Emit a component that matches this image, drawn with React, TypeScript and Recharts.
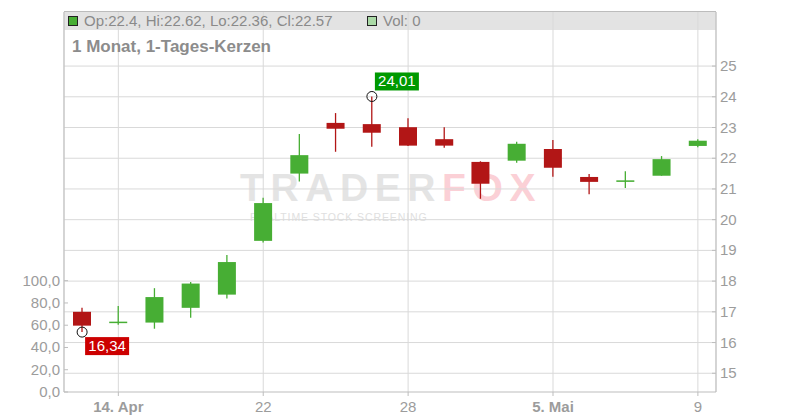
import React from 'react';
import {
  ComposedChart,
  Bar,
  Line,
  XAxis,
  YAxis,
  CartesianGrid,
  ReferenceDot,
} from 'recharts';

// trading days, 11. Apr - 9. Mai
const days = ['11', '14. Apr', '15', '16', '17', '22', '23', '24', '25', '28', '29', '30', '2', '5. Mai', '6', '7', '8', '9'];
const opens = [17.0, 16.64, 16.65, 17.13, 17.56, 19.31, 21.5, 23.15, 23.11, 23.01, 22.62, 21.88, 21.92, 22.3, 21.39, 21.23, 21.43, 22.4];
const highs = [17.13, 17.19, 17.77, 17.97, 18.85, 20.71, 22.79, 23.47, 24.01, 23.3, 23.01, 21.9, 22.54, 22.59, 21.49, 21.58, 22.07, 22.62];
const lows = [16.34, 16.58, 16.45, 16.81, 17.43, 19.26, 21.24, 22.21, 22.37, 22.4, 22.34, 20.68, 21.85, 21.4, 20.83, 21.03, 21.43, 22.36];
const closes = [16.55, 16.68, 17.48, 17.92, 18.62, 20.54, 22.1, 22.96, 22.83, 22.41, 22.41, 21.17, 22.47, 21.69, 21.23, 21.28, 21.97, 22.57];
const volumes = [0, 0, 0, 0, 0, 0, 0, 0, 0, 0, 0, 0, 0, 0, 0, 0, 0, 0];

const xTicks = ['14. Apr', '22', '28', '5. Mai', '9'];
const priceTicks = [15, 16, 17, 18, 19, 20, 21, 22, 23, 24, 25];
const volTicks = [0, 20, 40, 60, 80, 100];

const UP = '#47ae34';
const DOWN = '#b21616';
const AXIS = '#bdbdbd';
const LABEL = '#9c9c9c';
const FONT = '"Liberation Sans", Arial, sans-serif';

const data = days.map((d, i) => ({
  day: d,
  open: opens[i],
  high: highs[i],
  low: lows[i],
  close: closes[i],
  vol: volumes[i],
}));

const Candle = (props: any) => {
  const { x, y, width, height, payload } = props;
  const { open, close, high, low } = payload;
  const color = close >= open ? UP : DOWN;
  const ppu = height / (high - low || 1);
  const top = y + (high - Math.max(open, close)) * ppu;
  const bottom = y + (high - Math.min(open, close)) * ppu;
  const cx = x + width / 2;
  return (
    <g>
      <line x1={cx} x2={cx} y1={y} y2={y + height} stroke={color} strokeWidth={1.3} />
      <rect x={x} y={top} width={width} height={Math.max(bottom - top, 1.5)} fill={color} />
    </g>
  );
};

const PriceTick = ({ x, y, payload }: any) => (
  <g>
    <line x1={x - 8} x2={x - 4} y1={y} y2={y} stroke={AXIS} />
    <text x={x} y={y} dy={5} fill={LABEL} fontSize={15} fontFamily={FONT}>
      {payload.value}
    </text>
  </g>
);

const VolTick = ({ x, y, payload }: any) => (
  <g>
    <line x1={x + 4} x2={x + 8} y1={y} y2={y} stroke={AXIS} />
    <text x={x} y={y} dy={5} textAnchor="end" fill={LABEL} fontSize={15} fontFamily={FONT}>
      {payload.value.toFixed(1).replace('.', ',')}
    </text>
  </g>
);

const DayTick = ({ x, y, payload }: any) => (
  <g>
    <line x1={x} x2={x} y1={y} y2={y + 4} stroke={AXIS} />
    <text
      x={x}
      y={y + 20}
      textAnchor="middle"
      fill={LABEL}
      fontSize={15}
      fontWeight={payload.value.includes('.') ? 'bold' : 'normal'}
      fontFamily={FONT}
    >
      {payload.value}
    </text>
  </g>
);

// marker circle + value box (below for low, above for high)
const Marker = (color: string, text: string, above: boolean) => (props: any) => {
  const { cx, cy } = props;
  const by = above ? cy - 24 : cy + 5;
  return (
    <g>
      <circle cx={cx} cy={cy} r={5} fill="none" stroke="#111" strokeWidth={1} />
      <rect x={cx + 3} y={by} width={44} height={18} fill={color} />
      <text x={cx + 25} y={by + 14} textAnchor="middle" fill="#fff" fontSize={15} fontFamily={FONT}>
        {text}
      </text>
    </g>
  );
};

export default function App() {
  return (
    <div style={{ position: 'absolute', left: 0, top: 0, width: 800, height: 420, fontFamily: FONT, background: '#fff' }}>
      {/* header band + watermark, behind the grid */}
      <div style={{ position: 'absolute', left: 64, top: 11, width: 652, height: 18, background: '#e3e3e3', borderTop: '1px solid #bcbcbc' }} />
      <div style={{ position: 'absolute', left: 240, top: 166, fontSize: 39, fontWeight: 'bold', letterSpacing: 6.6, lineHeight: '44px', whiteSpace: 'nowrap' }}>
        <span style={{ color: '#e4e4e4' }}>TRADER</span>
        <span style={{ color: '#fbd0d6' }}>FOX</span>
      </div>
      <div style={{ position: 'absolute', left: 250, top: 211, fontSize: 10.5, letterSpacing: 0.9, color: '#e0e0e0', whiteSpace: 'nowrap' }}>
        REALTIME STOCK SCREENING
      </div>

      <div style={{ position: 'absolute', left: 0, top: 0 }}>
        <ComposedChart width={800} height={420} data={data} margin={{ top: 12, right: 0, bottom: 0, left: 0 }}>
          <CartesianGrid stroke="#d9d9d9" yAxisId="price" horizontalValues={priceTicks} />
          <XAxis
            dataKey="day"
            ticks={xTicks}
            interval={0}
            height={28}
            stroke={AXIS}
            tickLine={false}
            tickSize={0}
            tickMargin={0}
            tick={<DayTick />}
          />
          <YAxis
            yAxisId="vol"
            orientation="left"
            width={64}
            type="number"
            domain={[0, 341.4]}
            ticks={volTicks}
            interval={0}
            stroke={AXIS}
            tickLine={false}
            tickSize={0}
            tickMargin={4}
            tick={<VolTick />}
          />
          <YAxis
            yAxisId="price"
            orientation="right"
            width={84}
            type="number"
            domain={[14.39, 26.76]}
            ticks={priceTicks}
            interval={0}
            allowDataOverflow
            stroke={AXIS}
            tickLine={false}
            tickSize={0}
            tickMargin={4}
            tick={<PriceTick />}
          />
          <Line yAxisId="vol" dataKey="vol" stroke="none" dot={false} isAnimationActive={false} />
          <Bar
            yAxisId="price"
            dataKey={(d: any) => [d.low, d.high]}
            barSize={18}
            shape={<Candle />}
            isAnimationActive={false}
          />
          <ReferenceDot yAxisId="price" x="11" y={16.34} shape={Marker('#cc0000', '16,34', false)} />
          <ReferenceDot yAxisId="price" x="25" y={24.01} shape={Marker('#009900', '24,01', true)} />
        </ComposedChart>
      </div>

      {/* legend row and title */}
      <div style={{ position: 'absolute', left: 68, top: 16, width: 10, height: 10, boxSizing: 'border-box', border: '1px solid #222', background: UP }} />
      <div style={{ position: 'absolute', left: 84, top: 12, fontSize: 15, color: '#8a8a8a', whiteSpace: 'nowrap', lineHeight: '18px' }}>
        Op:22.4, Hi:22.62, Lo:22.36, Cl:22.57
      </div>
      <div style={{ position: 'absolute', left: 367, top: 16, width: 10, height: 10, boxSizing: 'border-box', border: '1px solid #222', background: '#aad9a6' }} />
      <div style={{ position: 'absolute', left: 383, top: 12, fontSize: 15, color: '#8a8a8a', whiteSpace: 'nowrap', lineHeight: '18px' }}>
        Vol: 0
      </div>
      <div style={{ position: 'absolute', left: 72, top: 37, fontSize: 17, fontWeight: 'bold', color: '#8c8c8c', whiteSpace: 'nowrap', lineHeight: '20px' }}>
        1 Monat, 1-Tages-Kerzen
      </div>
    </div>
  );
}
